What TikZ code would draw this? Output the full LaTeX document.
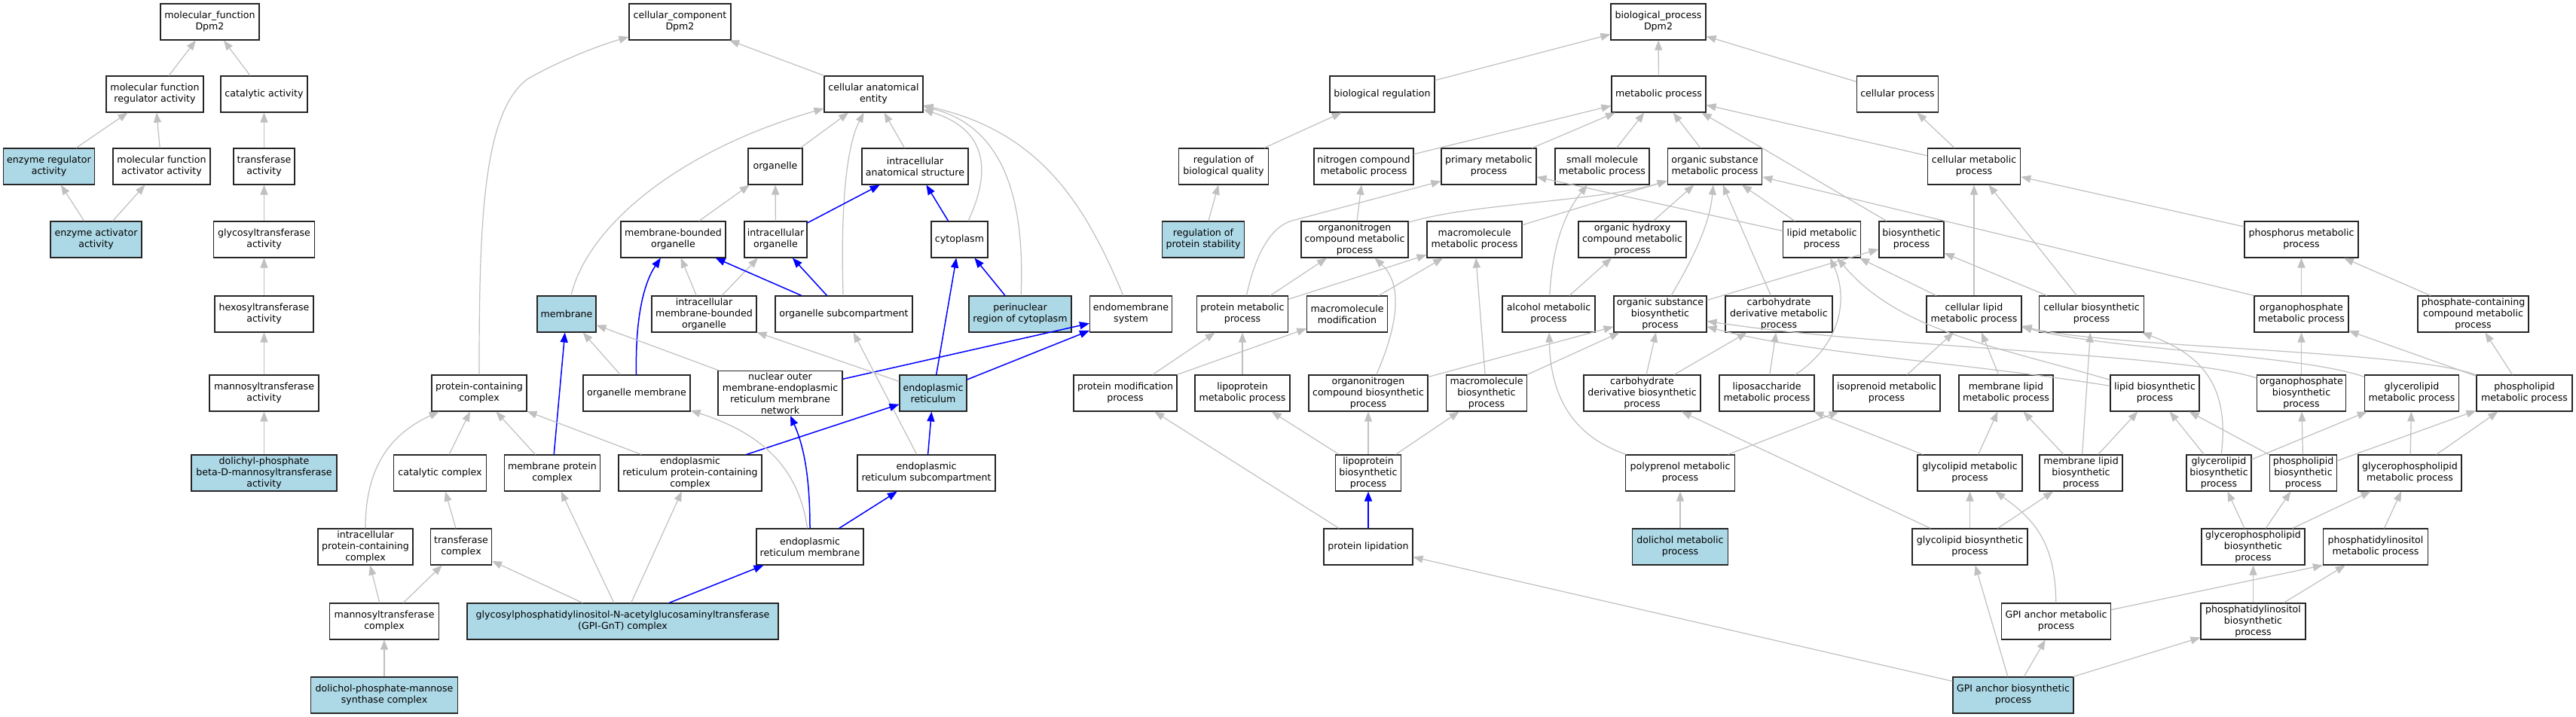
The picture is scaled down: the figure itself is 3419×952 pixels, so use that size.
\documentclass[tikz,border=0pt]{standalone}
\usepackage{fontspec}
\setmainfont{DejaVu Sans}
\usetikzlibrary{arrows.meta}
\definecolor{edgegray}{RGB}{192,192,192}
\definecolor{hlblue}{RGB}{173,216,230}
\begin{document}
\begin{tikzpicture}[x=1pt,y=-1pt,
  box/.style={draw=black!85,line width=1.1pt,fill=white,align=center,inner sep=2pt,minimum height=48pt,font=\fontsize{12.6}{15}\selectfont},
  hl/.style={box,fill=hlblue},
  ge/.style={draw=edgegray,line width=1.2pt,-{Triangle[length=13pt,width=10pt]}},
  be/.style={draw=blue,line width=1.5pt,-{Triangle[length=13pt,width=10pt]}}]
\useasboundingbox[fill=white] (0,0) rectangle (3419,952);
% ---------------- molecular function ----------------
\node[box,minimum width=131pt] (mfroot) at (278.5,29) {molecular\_function\\Dpm2};
\node[box,minimum width=129pt] (mfreg) at (205.5,125) {molecular function\\regulator activity};
\node[box,minimum width=115pt] (catact) at (350.5,125) {catalytic activity};
\node[hl,minimum width=121pt] (enzreg) at (65,221) {enzyme regulator\\activity};
\node[box,minimum width=129pt] (mfact) at (214.5,221) {molecular function\\activator activity};
\node[box,minimum width=81pt] (transact) at (350.5,221) {transferase\\activity};
\node[hl,minimum width=121pt] (enzact) at (127.5,318) {enzyme activator\\activity};
\node[box,minimum width=134pt] (glyco) at (350.5,318) {glycosyltransferase\\activity};
\node[box,minimum width=131pt] (hexo) at (350.5,417) {hexosyltransferase\\activity};
\node[box,minimum width=145pt] (mannact) at (350.5,522) {mannosyltransferase\\activity};
\node[hl,minimum width=193pt] (dolact) at (350.5,628) {dolichyl-phosphate\\beta-D-mannosyltransferase\\activity};
% ---------------- cellular component ----------------
\node[box,minimum width=135pt] (ccroot) at (902.5,29) {cellular\_component\\Dpm2};
\node[box,minimum width=131pt] (cae) at (1159.5,125) {cellular anatomical\\entity};
\node[box,minimum width=72pt] (organelle) at (1029,221) {organelle};
\node[box,minimum width=141pt] (ias) at (1214.5,221) {intracellular\\anatomical structure};
\node[box,minimum width=139pt] (mbo) at (893.5,318) {membrane-bounded\\organelle};
\node[box,minimum width=83pt] (io) at (1029.5,318) {intracellular\\organelle};
\node[box,minimum width=75pt] (cytoplasm) at (1273.5,318) {cytoplasm};
\node[hl,minimum width=78pt] (membrane) at (752,417) {membrane};
\node[box,minimum width=139pt] (imbo) at (934.5,417) {intracellular\\membrane-bounded\\organelle};
\node[box,minimum width=182pt] (osc) at (1120,417) {organelle subcompartment};
\node[hl,minimum width=136pt] (perinuc) at (1354,417) {perinuclear\\region of cytoplasm};
\node[box,minimum width=109pt] (endomem) at (1501,417) {endomembrane\\system};
\node[box,minimum width=126pt] (pcc) at (636,522) {protein-containing\\complex};
\node[box,minimum width=142pt] (orgmem) at (845,522) {organelle membrane};
\node[box,minimum width=165pt] (nomermn) at (1035.5,522) {nuclear outer\\membrane-endoplasmic\\reticulum membrane\\network};
\node[hl,minimum width=89pt] (er) at (1238.5,522) {endoplasmic\\reticulum};
\node[box,minimum width=123pt] (catcomp) at (584,628) {catalytic complex};
\node[box,minimum width=127pt] (mpc) at (733,628) {membrane protein\\complex};
\node[box,minimum width=190pt] (erpcc) at (916,628) {endoplasmic\\reticulum protein-containing\\complex};
\node[box,minimum width=183pt] (ersub) at (1229.5,628) {endoplasmic\\reticulum subcompartment};
\node[box,minimum width=126pt] (ipcc) at (485,726) {intracellular\\protein-containing\\complex};
\node[box,minimum width=81pt] (transcomp) at (612,726) {transferase\\complex};
\node[box,minimum width=142pt] (ermem) at (1075,726) {endoplasmic\\reticulum membrane};
\node[box,minimum width=145pt] (manncomp) at (510,825) {mannosyltransferase\\complex};
\node[hl,minimum width=413pt] (gpignt) at (826.5,825) {glycosylphosphatidylinositol-N-acetylglucosaminyltransferase\\(GPI-GnT) complex};
\node[hl,minimum width=195pt] (dpmsc) at (510,923) {dolichol-phosphate-mannose\\synthase complex};
% ---------------- biological process ----------------
\node[box,minimum width=126pt] (bproot) at (2201,29) {biological\_process\\Dpm2};
\node[box,minimum width=139pt] (bioreg) at (1834.5,125) {biological regulation};
\node[box,minimum width=125pt] (metab) at (2201.5,125) {metabolic process};
\node[box,minimum width=108pt] (cellproc) at (2518.5,125) {cellular process};
\node[box,minimum width=118.5pt] (regbq) at (1624,221) {regulation of\\biological quality};
\node[box,minimum width=132pt] (ncmp) at (1810,221) {nitrogen compound\\metabolic process};
\node[box,minimum width=126pt] (primary) at (1976,221) {primary metabolic\\process};
\node[box,minimum width=125pt] (smmp) at (2126.5,221) {small molecule\\metabolic process};
\node[box,minimum width=125.5pt] (osmp) at (2276,221) {organic substance\\metabolic process};
\node[box,minimum width=123.5pt] (cmp) at (2620,221) {cellular metabolic\\process};
\node[hl,minimum width=109.5pt] (regps) at (1597,318) {regulation of\\protein stability};
\node[box,minimum width=142pt] (oncmp) at (1798,318) {organonitrogen\\compound metabolic\\process};
\node[box,minimum width=126pt] (mmp) at (1957,318) {macromolecule\\metabolic process};
\node[box,minimum width=143pt] (ohcmp) at (2166.5,318) {organic hydroxy\\compound metabolic\\process};
\node[box,minimum width=102.5pt] (lmp) at (2418,318) {lipid metabolic\\process};
\node[box,minimum width=86pt] (biosyn) at (2537,318) {biosynthetic\\process};
\node[box,minimum width=151pt] (phosmp) at (3054.5,318) {phosphorus metabolic\\process};
\node[box,minimum width=121pt] (pmp) at (1649,417) {protein metabolic\\process};
\node[box,minimum width=106.5pt] (macmod) at (1788,417) {macromolecule\\modification};
\node[box,minimum width=123pt] (alcohol) at (2055.5,417) {alcohol metabolic\\process};
\node[box,minimum width=123pt] (osbp) at (2203.5,417) {organic substance\\biosynthetic\\process};
\node[box,minimum width=142pt] (cdmp) at (2361,417) {carbohydrate\\derivative metabolic\\process};
\node[box,minimum width=126pt] (clmp) at (2620,417) {cellular lipid\\metabolic process};
\node[box,minimum width=138.5pt] (cbp) at (2776,417) {cellular biosynthetic\\process};
\node[box,minimum width=125pt] (opmp) at (3054.5,417) {organophosphate\\metabolic process};
\node[box,minimum width=147pt] (pccmp) at (3282.5,417) {phosphate-containing\\compound metabolic\\process};
\node[box,minimum width=137pt] (protmod) at (1493.5,522) {protein modification\\process};
\node[box,minimum width=126pt] (lpmp) at (1649,522) {lipoprotein\\metabolic process};
\node[box,minimum width=158pt] (oncbp) at (1816,522) {organonitrogen\\compound biosynthetic\\process};
\node[box,minimum width=106.5pt] (mbp) at (1973,522) {macromolecule\\biosynthetic\\process};
\node[box,minimum width=155pt] (cdbp) at (2179.5,522) {carbohydrate\\derivative biosynthetic\\process};
\node[box,minimum width=126pt] (lsmp) at (2345,522) {liposaccharide\\metabolic process};
\node[box,minimum width=142pt] (ipmp) at (2504,522) {isoprenoid metabolic\\process};
\node[box,minimum width=125pt] (mlmp) at (2662.5,522) {membrane lipid\\metabolic process};
\node[box,minimum width=118pt] (lbp) at (2860,522) {lipid biosynthetic\\process};
\node[box,minimum width=118.5pt] (opbp) at (3054.5,522) {organophosphate\\biosynthetic\\process};
\node[box,minimum width=125.5pt] (glmp) at (3201,522) {glycerolipid\\metabolic process};
\node[box,minimum width=127pt] (phlmp) at (3350.5,522) {phospholipid\\metabolic process};
\node[box,minimum width=86.5pt] (lpbp) at (1816,628) {lipoprotein\\biosynthetic\\process};
\node[box,minimum width=144.5pt] (polypmp) at (2230,628) {polyprenol metabolic\\process};
\node[box,minimum width=139pt] (glcmp) at (2614.5,628) {glycolipid metabolic\\process};
\node[box,minimum width=110pt] (mlbp) at (2762,628) {membrane lipid\\biosynthetic\\process};
\node[box,minimum width=86pt] (grlbp) at (2945,628) {glycerolipid\\biosynthetic\\process};
\node[box,minimum width=89.5pt] (phlbp) at (3057,628) {phospholipid\\biosynthetic\\process};
\node[box,minimum width=137pt] (gpmp) at (3198.5,628) {glycerophospholipid\\metabolic process};
\node[box,minimum width=118pt] (protlip) at (1816,726) {protein lipidation};
\node[hl,minimum width=126.5pt] (dolmp) at (2230,726) {dolichol metabolic\\process};
\node[box,minimum width=153pt] (glcbp) at (2614.5,726) {glycolipid biosynthetic\\process};
\node[box,minimum width=137pt] (gpbp) at (2990.5,726) {glycerophospholipid\\biosynthetic\\process};
\node[box,minimum width=139pt] (pimp) at (3153,726) {phosphatidylinositol\\metabolic process};
\node[box,minimum width=145pt] (gpiamp) at (2729,825) {GPI anchor metabolic\\process};
\node[box,minimum width=139pt] (pibp) at (2990.5,825) {phosphatidylinositol\\biosynthetic\\process};
\node[hl,minimum width=160pt] (gpiabp) at (2672,923) {GPI anchor biosynthetic\\process};
% ---------------- edges: molecular function ----------------
\draw[ge] (mfreg) -- (mfroot);
\draw[ge] (catact) -- (mfroot);
\draw[ge] (enzreg) -- (mfreg);
\draw[ge] (mfact) -- (mfreg);
\draw[ge] (transact) -- (catact);
\draw[ge] (enzact) -- (enzreg);
\draw[ge] (enzact) -- (mfact);
\draw[ge] (glyco) -- (transact);
\draw[ge] (hexo) -- (glyco);
\draw[ge] (mannact) -- (hexo);
\draw[ge] (dolact) -- (mannact);
% ---------------- edges: cellular component ----------------
\draw[ge] (cae) -- (ccroot);
\draw[ge] (pcc) .. controls (636,300) and (640,150) .. (700,105) .. controls (740,82) and (790,62) .. (ccroot);
\draw[ge] (organelle) -- (cae);
\draw[ge] (ias) -- (cae);
\draw[ge] (membrane) .. controls (780,300) and (900,200) .. (cae);
\draw[ge] (osc) .. controls (1116,300) and (1120,200) .. (cae);
\draw[ge] (cytoplasm) .. controls (1310,240) and (1320,175) .. (cae);
\draw[ge] (perinuc) .. controls (1360,280) and (1340,170) .. (cae);
\draw[ge] (endomem) .. controls (1440,270) and (1380,175) .. (cae);
\draw[ge] (mbo) -- (organelle);
\draw[ge] (io) -- (organelle);
\draw[be] (io) -- (ias);
\draw[be] (cytoplasm) -- (ias);
\draw[ge] (imbo) -- (mbo);
\draw[ge] (imbo) -- (io);
\draw[be] (osc) -- (mbo);
\draw[be] (osc) -- (io);
\draw[be] (perinuc) -- (cytoplasm);
\draw[be] (er) -- (cytoplasm);
\draw[ge] (orgmem) -- (membrane);
\draw[be] (orgmem) .. controls (843,420) and (855,375) .. (mbo);
\draw[ge] (nomermn) -- (membrane);
\draw[be] (nomermn) -- (endomem);
\draw[ge] (er) -- (imbo);
\draw[be] (er) -- (endomem);
\draw[ge] (ersub) -- (osc);
\draw[be] (ersub) -- (er);
\draw[be] (mpc) -- (membrane);
\draw[ge] (mpc) -- (pcc);
\draw[ge] (erpcc) -- (pcc);
\draw[be] (erpcc) -- (er);
\draw[ge] (catcomp) -- (pcc);
\draw[ge] (transcomp) -- (catcomp);
\draw[ge] (ipcc) .. controls (485,630) and (510,580) .. (pcc);
\draw[ge] (manncomp) -- (ipcc);
\draw[ge] (manncomp) -- (transcomp);
\draw[ge] (dpmsc) -- (manncomp);
\draw[be] (ermem) -- (ersub);
\draw[be] (ermem) .. controls (1075,630) and (1066,590) .. (nomermn);
\draw[ge] (ermem) .. controls (1060,620) and (1010,575) .. (orgmem);
\draw[be] (gpignt) -- (ermem);
\draw[ge] (gpignt) -- (mpc);
\draw[ge] (gpignt) -- (erpcc);
\draw[ge] (gpignt) -- (transcomp);
% ---------------- edges: biological process ----------------
\draw[ge] (bioreg) -- (bproot);
\draw[ge] (metab) -- (bproot);
\draw[ge] (cellproc) -- (bproot);
\draw[ge] (regbq) -- (bioreg);
\draw[ge] (regps) -- (regbq);
\draw[ge] (ncmp) -- (metab);
\draw[ge] (primary) -- (metab);
\draw[ge] (smmp) -- (metab);
\draw[ge] (osmp) -- (metab);
\draw[ge] ([xshift=-33pt]biosyn.north) -- ([xshift=57pt]metab.south);
\draw[ge] (cmp) -- (metab);
\draw[ge] (cmp) -- (cellproc);
\draw[ge] (oncmp) -- (ncmp);
\draw[ge] (oncmp) .. controls (1950,270) and (2120,268) .. (osmp);
\draw[ge] (mmp) -- (osmp);
\draw[ge] (pmp) .. controls (1668,330) and (1690,300) .. (1715,293) -- ([yshift=5pt]primary.south west);
\draw[ge] (pmp) -- (oncmp);
\draw[ge] (pmp) -- (mmp);
\draw[ge] (macmod) -- (mmp);
\draw[ge] (oncbp) .. controls (1852,440) and (1865,380) .. (oncmp);
\draw[ge] (oncbp) -- (osbp);
\draw[ge] (mbp) -- (mmp);
\draw[ge] (mbp) -- (osbp);
\draw[ge] (alcohol) .. controls (2060,330) and (2075,285) .. (smmp);
\draw[ge] (alcohol) -- (ohcmp);
\draw[ge] (ohcmp) -- (osmp);
\draw[ge] (osbp) .. controls (2255,330) and (2270,290) .. (osmp);
\draw[ge] (osbp) -- (biosyn);
\draw[ge] (cdmp) -- (osmp);
\draw[ge] (lmp) -- (osmp);
\draw[ge] (lmp) -- (primary);
\draw[ge] (clmp) -- (lmp);
\draw[ge] (clmp) -- (cmp);
\draw[ge] (cbp) -- (cmp);
\draw[ge] (cbp) -- (biosyn);
\draw[ge] (phosmp) -- (cmp);
\draw[ge] (opmp.north west) -- ([yshift=-14pt]osmp.east);
\draw[ge] (opmp) -- (phosmp);
\draw[ge] (pccmp) -- (phosmp);
\draw[ge] (protmod) -- (pmp);
\draw[ge] (protmod) -- (macmod);
\draw[ge] (lpmp) -- (pmp);
\draw[ge] (lpbp) -- (lpmp);
\draw[ge] (lpbp) -- (oncbp);
\draw[ge] (lpbp) -- (mbp);
\draw[be] (protlip) -- (lpbp);
\draw[ge] (protlip) -- (protmod);
\draw[ge] (cdbp) -- (osbp);
\draw[ge] (cdbp) -- (cdmp);
\draw[ge] (lsmp) -- (cdmp);
\draw[ge] (lsmp) .. controls (2440,460) and (2455,400) .. (lmp);
\draw[ge] (ipmp) -- (clmp);
\draw[ge] (mlmp) -- (clmp);
\draw[ge] (polypmp) .. controls (2090,580) and (2058,530) .. (alcohol);
\draw[ge] (polypmp) -- (ipmp);
\draw[ge] (dolmp) -- (polypmp);
\draw[ge] (glcbp) -- (cdbp);
\draw[ge] (glcbp) -- (glcmp);
\draw[ge] (glcbp) -- (mlbp);
\draw[ge] (glcmp) -- (lsmp);
\draw[ge] (glcmp) -- (mlmp);
\draw[ge] (mlbp) -- (mlmp);
\draw[ge] (mlbp) -- (cbp);
\draw[ge] (mlbp) -- (lbp);
\draw[ge] (lbp) .. controls (2650,460) and (2520,440) .. (lmp);
\draw[ge] (lbp) .. controls (2600,480) and (2400,470) .. (osbp);
\draw[ge] (opbp) .. controls (2900,470) and (2500,462) .. (osbp);
\draw[ge] (opbp) -- (opmp);
\draw[ge] (grlbp) -- (lbp);
\draw[ge] (grlbp) .. controls (2960,510) and (2920,470) .. (cbp);
\draw[ge] (grlbp) -- (glmp);
\draw[ge] (phlbp) -- (lbp);
\draw[ge] (phlbp) -- (opbp);
\draw[ge] (phlbp) -- (phlmp);
\draw[ge] (glmp) .. controls (3050,470) and (2800,465) .. (clmp);
\draw[ge] (phlmp) .. controls (3200,465) and (2800,462) .. (clmp);
\draw[ge] (phlmp) -- (opmp);
\draw[ge] (phlmp) -- (pccmp);
\draw[ge] (gpmp) -- (glmp);
\draw[ge] (gpmp) -- (phlmp);
\draw[ge] (gpbp) -- (grlbp);
\draw[ge] (gpbp) -- (phlbp);
\draw[ge] (gpbp) -- (gpmp);
\draw[ge] (pimp) -- (gpmp);
\draw[ge] (pibp) -- (gpbp);
\draw[ge] (pibp) -- (pimp);
\draw[ge] (gpiamp) .. controls (2728,720) and (2700,690) .. (glcmp);
\draw[ge] (gpiamp) -- (pimp.south west);
\draw[ge] (gpiabp) -- (gpiamp);
\draw[ge] (gpiabp) -- (glcbp);
\draw[ge] (gpiabp) -- (pibp);
\draw[ge] (gpiabp) -- (protlip);
\end{tikzpicture}
\end{document}
